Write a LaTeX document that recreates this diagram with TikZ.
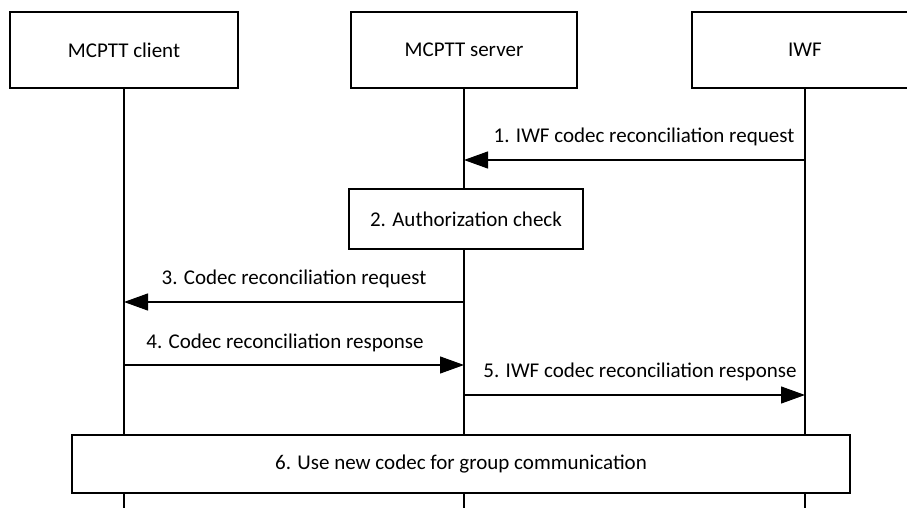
\documentclass[tikz,border=0pt]{standalone}
\usepackage{fontspec}
\setmainfont{Carlito}
\usetikzlibrary{arrows.meta}
\tikzset{
  entity/.style={draw,fill=white,line width=1.2pt,minimum height=76pt,inner sep=0pt},
  stepbox/.style={draw,fill=white,line width=1.2pt,minimum height=60pt,inner sep=0pt},
  msg/.style={line width=1.2pt,-{Triangle[length=24pt,width=17pt]}},
  msglabel/.style={inner sep=0pt,text height=1.45ex,text depth=.3ex}
}
\begin{document}
\begin{tikzpicture}[x=1pt,y=-1pt,font=\fontsize{21}{24}\selectfont]
\useasboundingbox (0,0) rectangle (907,508);
\coordinate (bottom) at (0,508);
\draw[line width=1.2pt] (124,88) -- (124,508) (464,88) -- (464,508) (805,88) -- (805,508);
\node[entity,minimum width=228pt] (client) at (124,50) {MCPTT client};
\node[entity,minimum width=226pt] (server) at (464,50) {MCPTT server};
\node[entity,minimum width=226pt] (iwf) at (805,50) {IWF};
\coordinate (m1) at (0,160);
\coordinate (m3) at (0,302);
\coordinate (m4) at (0,365);
\coordinate (m5) at (0,395);
\draw[msg] (iwf |- m1) -- (server |- m1);
\node[msglabel] (l1) at (644,140) {1. IWF codec reconciliation request};
\node[stepbox,minimum width=234pt] (auth) at (466,219) {2. Authorization check};
\draw[msg] (server |- m3) -- (client |- m3);
\node[msglabel] (l3) at (294,282) {3. Codec reconciliation request};
\draw[msg] (client |- m4) -- (server |- m4);
\node[msglabel] (l4) at (285,346) {4. Codec reconciliation response};
\draw[msg] (server |- m5) -- (iwf |- m5);
\node[msglabel] (l5) at (640,375) {5. IWF codec reconciliation response};
\node[stepbox,minimum width=778pt,minimum height=58pt] (usecodec) at (461,464) {6. Use new codec for group communication};
\end{tikzpicture}
\end{document}
